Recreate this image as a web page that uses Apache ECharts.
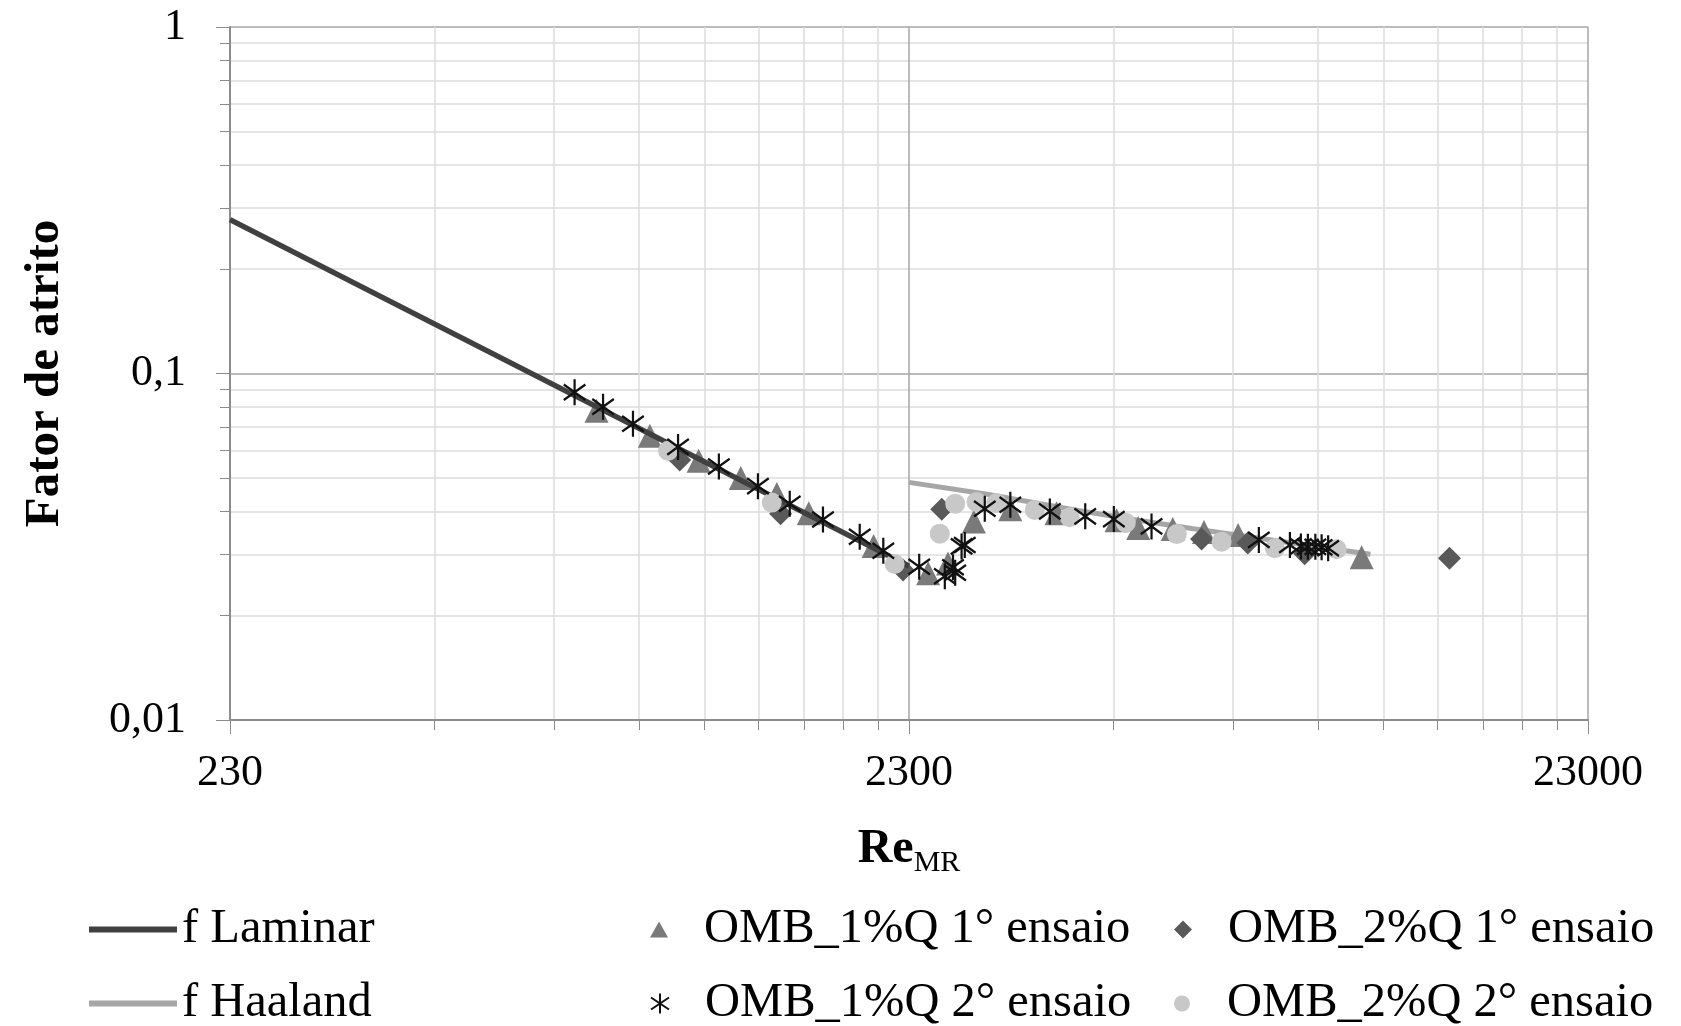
<!DOCTYPE html>
<html>
<head>
<meta charset="utf-8">
<script src="https://cdn.jsdelivr.net/npm/echarts@6/dist/echarts.min.js"></script>
<style>
html,body{margin:0;padding:0;background:#fff;}
#chart{width:1681px;height:1026px;}
</style>
</head>
<body>
<div id="chart"></div>
<script>
// ---- tick values ----
var xMajorTicks = [230, 2300, 23000];
var xMinorTicks = [460, 690, 920, 1150, 1380, 1610, 1840, 2070, 4600, 6900, 9200, 11500, 13800, 16100, 18400, 20700];
var yMajorTicks = [0.01, 0.1, 1];
var yMinorTicks = [0.02, 0.03, 0.04, 0.05, 0.06, 0.07, 0.08, 0.09, 0.2, 0.3, 0.4, 0.5, 0.6, 0.7, 0.8, 0.9];

// ---- series values [Re, f] ----
var fLaminar = [[230, 0.278], [2300, 0.0278]];
var fHaaland = [[2300, 0.0485], [3000, 0.0448], [4000, 0.0405], [5000, 0.0377], [6000, 0.0357], [8000, 0.0329], [10000, 0.0309], [11000, 0.0301]];
var omb1Q1 = [[797, 0.0781], [955, 0.0661], [1127, 0.0560], [1300, 0.0499], [1469, 0.0449], [1637, 0.0395], [2040, 0.0318], [2454, 0.0265], [2625, 0.0283], [2866, 0.0374], [3243, 0.0406], [3793, 0.0395], [4650, 0.0377], [5003, 0.0358], [5626, 0.0356], [6254, 0.0349], [7022, 0.0342], [10674, 0.0295]];
var omb1Q2 = [[740, 0.0883], [815, 0.0802], [902, 0.0716], [1051, 0.0614], [1207, 0.0539], [1378, 0.0473], [1535, 0.0421], [1718, 0.0379], [1946, 0.0338], [2108, 0.0308], [2381, 0.0277], [2597, 0.0260], [2670, 0.0276], [2690, 0.0266], [2749, 0.0317], [2779, 0.0320], [2974, 0.0407], [3243, 0.0418], [3708, 0.0400], [4181, 0.0387], [4607, 0.0380], [5235, 0.0362], [7533, 0.0331], [8370, 0.0320], [8687, 0.0317], [8896, 0.0316], [9124, 0.0316], [9320, 0.0315], [9529, 0.0313]];
var omb2Q1 = [[1057, 0.0563], [1488, 0.0394], [2254, 0.0271], [2570, 0.0406], [6203, 0.0333], [7257, 0.0324], [8800, 0.0302], [14380, 0.0293]];
var omb2Q2 = [[1016, 0.0598], [1444, 0.0424], [2191, 0.0282], [2553, 0.0345], [2690, 0.0421], [2892, 0.0426], [3094, 0.0423], [3524, 0.0404], [3968, 0.0385], [4798, 0.0371], [5704, 0.0344], [6640, 0.0327], [7953, 0.0313], [9807, 0.0311]];

var names = ['f Laminar', 'f Haaland', 'OMB_1%Q 1\u00b0 ensaio', 'OMB_1%Q 2\u00b0 ensaio', 'OMB_2%Q 1\u00b0 ensaio', 'OMB_2%Q 2\u00b0 ensaio'];

var FONT = 'Liberation Serif';
var starPath = 'path://M10,0 L10,20 M1,4 L19,16 M1,16 L19,4';

function fmtNum(v) {
  return String(Number(Number(v).toPrecision(6))).replace('.', ',');
}

function legendItem(name, icon, left, top, w, h, padLeft) {
  return {
    data: [{name: name, icon: icon}], orient: 'horizontal', left: left, top: top,
    itemWidth: w, itemHeight: h, selectedMode: false, padding: 0, symbolKeepAspect: true,
    textStyle: {fontFamily: FONT, fontSize: 48.5, color: '#000', padding: [0, 0, 0, padLeft]}
  };
}

var row1 = 905, row2 = 979;

var chart = echarts.init(document.getElementById('chart'), null, {renderer: 'canvas'});
var option = {
  backgroundColor: '#ffffff',
  animation: false,
  grid: {left: 230, right: 93, top: 27, bottom: 306, containLabel: false},
  xAxis: [
    {
      type: 'log', logBase: 10, min: 230, max: 23000, position: 'bottom',
      axisLine: {show: true, lineStyle: {color: '#8c8c8c', width: 2}},
      axisTick: {show: true, inside: false, length: 10, customValues: xMinorTicks, lineStyle: {color: '#8c8c8c', width: 1}},
      axisLabel: {show: false},
      splitLine: {show: true, lineStyle: {color: '#dcdcdc', width: 1.5}},
      minorTick: {show: false}, minorSplitLine: {show: false}
    },
    {
      type: 'log', logBase: 10, min: 230, max: 23000, position: 'bottom', offset: 0,
      axisLine: {show: false},
      axisTick: {show: true, inside: false, length: 14, customValues: xMajorTicks, lineStyle: {color: '#8c8c8c', width: 1}},
      axisLabel: {show: true, customValues: xMajorTicks, margin: 31, color: '#000', fontFamily: FONT, fontSize: 44,
        formatter: function (v) { return String(Math.round(v)); }},
      splitLine: {show: true, lineStyle: {color: '#a6a6a6', width: 1.5}},
      name: '{a|Re}{b|MR}', nameLocation: 'middle', nameGap: 110,
      nameTextStyle: {
        rich: {
          a: {fontFamily: FONT, fontWeight: 'bold', fontSize: 48, lineHeight: 48, color: '#000', verticalAlign: 'bottom', padding: [0, 0, 4, 0]},
          b: {fontFamily: FONT, fontWeight: 'normal', fontSize: 30, lineHeight: 30, color: '#000', verticalAlign: 'bottom'}
        }
      }
    }
  ],
  yAxis: [
    {
      type: 'log', logBase: 10, min: 0.01, max: 1, position: 'left',
      axisLine: {show: true, lineStyle: {color: '#8c8c8c', width: 2}},
      axisTick: {show: true, inside: false, length: 10, customValues: yMinorTicks, lineStyle: {color: '#8c8c8c', width: 1}},
      axisLabel: {show: false},
      splitLine: {show: true, lineStyle: {color: '#dcdcdc', width: 1.5}},
      minorTick: {show: false}, minorSplitLine: {show: false}
    },
    {
      type: 'log', logBase: 10, min: 0.01, max: 1, position: 'left', offset: 0,
      axisLine: {show: false},
      axisTick: {show: true, inside: false, length: 14, customValues: yMajorTicks, lineStyle: {color: '#8c8c8c', width: 1}},
      axisLabel: {show: true, customValues: yMajorTicks, margin: 44, color: '#000', fontFamily: FONT, fontSize: 44,
        formatter: function (v) { return fmtNum(v); }},
      splitLine: {show: true, lineStyle: {color: '#a6a6a6', width: 1.5}},
      name: 'Fator de atrito', nameLocation: 'middle', nameGap: 160, nameRotate: 90,
      nameTextStyle: {fontFamily: FONT, fontWeight: 'bold', fontSize: 49, color: '#000'}
    }
  ],
  legend: [
    legendItem(names[0], 'rect', 89, row1, 88, 6, 0),
    legendItem(names[1], 'rect', 89, row2, 88, 6, 0),
    legendItem(names[2], 'triangle', 650, row1, 18, 16, 31),
    legendItem(names[3], starPath, 650, row2, 18, 20, 31),
    legendItem(names[4], 'diamond', 1174, row1, 18, 18, 31),
    legendItem(names[5], 'circle', 1174, row2, 18, 16, 31)
  ],
  series: [
    {
      name: names[1], type: 'line', xAxisIndex: 0, yAxisIndex: 0, data: fHaaland,
      symbol: 'none', smooth: false, z: 2,
      lineStyle: {color: '#a6a6a6', width: 5}, itemStyle: {color: '#a6a6a6'}
    },
    {
      name: names[2], type: 'scatter', xAxisIndex: 0, yAxisIndex: 0, data: omb1Q1,
      symbol: 'triangle', symbolSize: 24, symbolKeepAspect: true, z: 3,
      itemStyle: {color: '#7a7a7a', opacity: 1}
    },
    {
      name: names[4], type: 'scatter', xAxisIndex: 0, yAxisIndex: 0, data: omb2Q1,
      symbol: 'diamond', symbolSize: 23, symbolKeepAspect: true, z: 3,
      itemStyle: {color: '#595959', opacity: 1}
    },
    {
      name: names[0], type: 'line', xAxisIndex: 0, yAxisIndex: 0, data: fLaminar,
      symbol: 'none', smooth: false, z: 4,
      lineStyle: {color: '#404040', width: 5.5}, itemStyle: {color: '#404040'}
    },
    {
      name: names[5], type: 'scatter', xAxisIndex: 0, yAxisIndex: 0, data: omb2Q2,
      symbol: 'circle', symbolSize: 20, z: 5,
      itemStyle: {color: '#c8c8c8', opacity: 1}
    },
    {
      name: names[3], type: 'scatter', xAxisIndex: 0, yAxisIndex: 0, data: omb1Q2,
      symbol: starPath, symbolSize: [24, 26], symbolKeepAspect: true, z: 6,
      itemStyle: {color: 'rgba(0,0,0,0)', borderColor: '#111111', borderWidth: 2.3, opacity: 1}
    }
  ]
};
chart.setOption(option);
</script>
</body>
</html>
